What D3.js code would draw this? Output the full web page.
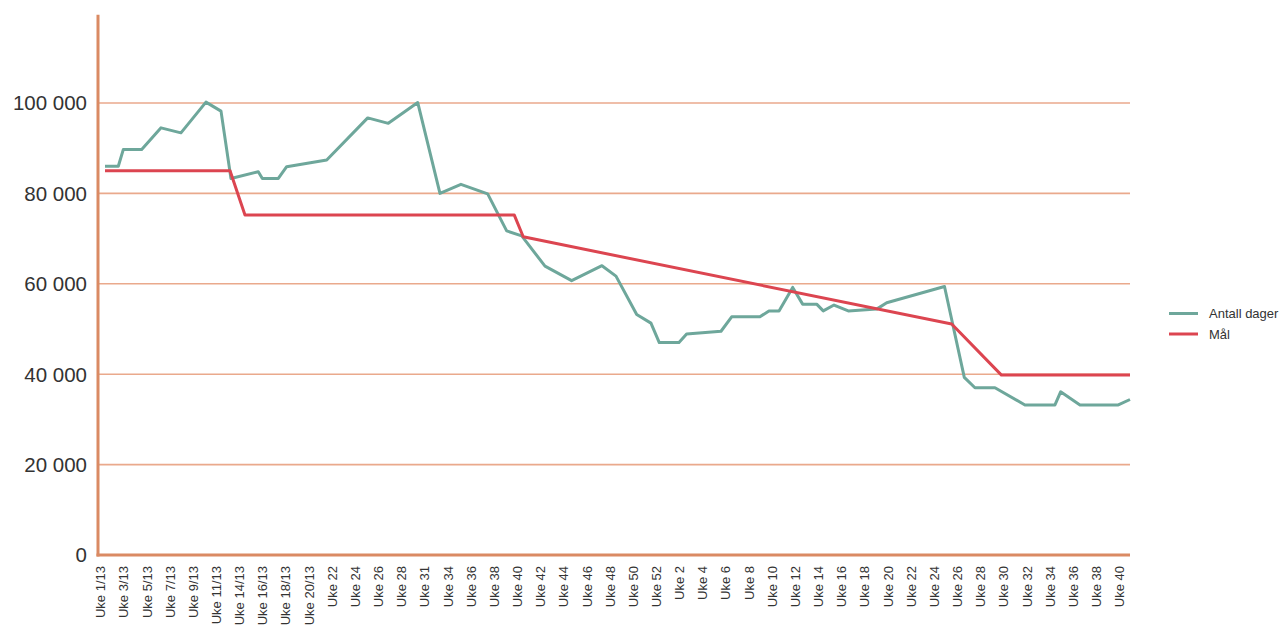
<!DOCTYPE html>
<html>
<head>
<meta charset="utf-8">
<script src="https://cdn.jsdelivr.net/npm/d3@7"></script>
<style>
  html, body { margin: 0; padding: 0; background: #fff; }
  svg { display: block; }
</style>
</head>
<body>
<svg id="chart" width="1283" height="627"></svg>
<script>
// ---------- DATA ----------
const tickLabels = [
  "Uke 1/13","Uke 3/13","Uke 5/13","Uke 7/13","Uke 9/13","Uke 11/13","Uke 14/13","Uke 16/13","Uke 18/13","Uke 20/13",
  "Uke 22","Uke 24","Uke 26","Uke 28","Uke 31","Uke 34","Uke 36","Uke 38","Uke 40","Uke 42",
  "Uke 44","Uke 46","Uke 48","Uke 50","Uke 52","Uke 2","Uke 4","Uke 6","Uke 8","Uke 10",
  "Uke 12","Uke 14","Uke 16","Uke 18","Uke 20","Uke 22","Uke 24","Uke 26","Uke 28","Uke 30",
  "Uke 32","Uke 34","Uke 36","Uke 38","Uke 40"
];
// position on the week axis (category index, 2 per label) and values
const antallPos = [0.43,1.58,2.01,3.60,5.27,6.99,9.15,10.45,11.31,13.67,14.02,15.40,16.12,19.58,23.12,24.90,27.44,29.36,31.17,33.48,
  35.12,36.42,38.43,40.73,43.35,44.56,46.35,47.58,48.30,50.00,50.66,53.63,54.55,56.99,57.77,58.64,59.82,60.68,61.89,62.46,
  63.39,64.62,67.07,67.94,72.93,74.64,75.56,77.29,79.88,82.47,82.96,84.63,87.94,88.95];
const antallValues = [86000,86000,89700,89700,94500,93400,100200,98200,83300,84800,83300,83300,85900,87400,96700,95500,100100,80000,82000,79900,
  71700,70600,63900,60700,64000,61700,53200,51300,47000,47000,48900,49500,52700,52700,54000,54000,59200,55500,55500,54000,
  55300,54000,54400,55800,59400,39300,37000,37000,33200,33200,36100,33200,33200,34400];
const malPos = [0.43,11.23,12.52,35.78,36.55,73.55,77.85,88.95];
const malValues = [85000,85000,75200,75200,70400,51100,39800,39800];
const yTicks = [0,20000,40000,60000,80000,100000];
const seriesNames = ["Antall dager","Mål"];
const seriesColors = ["#6ea79b","#dc4550"];

// ---------- CHART ----------
const svg = d3.select("#chart");
const axisColor = "#da8a63", gridColor = "#eaa98c", textColor = "#333";
const x = d3.scaleLinear().domain([0, 88]).range([100, 1119]);
const y = d3.scaleLinear().domain([0, 120000]).range([555, 12.6]);
const plotLeft = 98, plotRight = 1130;

// gridlines
svg.append("g").selectAll("line").data(yTicks.filter(d => d > 0)).join("line")
  .attr("x1", plotLeft).attr("x2", plotRight)
  .attr("y1", d => y(d)).attr("y2", d => y(d))
  .attr("stroke", gridColor).attr("stroke-width", 1.6);

// y labels
const fmt = d => d3.format(",")(d).replace(/,/g, " ");
svg.append("g").selectAll("text").data(yTicks).join("text")
  .attr("x", 87).attr("y", d => y(d)).attr("dy", "0.36em")
  .attr("text-anchor", "end")
  .attr("font-family", "Liberation Sans, Arial, sans-serif")
  .attr("font-size", 20.5).attr("fill", textColor)
  .text(fmt);

// x labels
const xAxis = d3.axisBottom(x)
  .tickValues(tickLabels.map((d, i) => i * 2))
  .tickFormat((d, i) => tickLabels[i]).tickSize(0);
const gx = svg.append("g").attr("transform", "translate(0,566)").call(xAxis);
gx.select(".domain").remove();
gx.selectAll("text")
  .attr("transform", "rotate(-90)")
  .attr("x", 0).attr("y", 0).attr("dy", "0.36em")
  .attr("text-anchor", "end")
  .attr("font-family", "Liberation Sans, Arial, sans-serif")
  .attr("font-size", 13).attr("fill", textColor);

// axis lines
svg.append("line").attr("x1", plotLeft).attr("x2", plotLeft)
  .attr("y1", y(119500)).attr("y2", 556.5)
  .attr("stroke", axisColor).attr("stroke-width", 3);
svg.append("line").attr("x1", plotLeft - 1.5).attr("x2", plotRight)
  .attr("y1", y(0)).attr("y2", y(0))
  .attr("stroke", axisColor).attr("stroke-width", 3);

// lines
const line = d3.line().x(d => x(d[0])).y(d => y(d[1]));
const series = [
  antallPos.map((p, i) => [p, antallValues[i]]),
  malPos.map((p, i) => [p, malValues[i]])
];
series.forEach((s, i) => {
  svg.append("path").datum(s).attr("d", line)
    .attr("fill", "none").attr("stroke", seriesColors[i])
    .attr("stroke-width", 3).attr("stroke-linejoin", "round").attr("stroke-linecap", "butt");
});

// legend
const lg = svg.append("g").attr("transform", "translate(1169,313.5)");
seriesNames.forEach((n, i) => {
  const g = lg.append("g").attr("transform", `translate(0,${i * 20.5})`);
  g.append("line").attr("x1", 0).attr("x2", 29).attr("y1", 0).attr("y2", 0)
    .attr("stroke", seriesColors[i]).attr("stroke-width", 3);
  g.append("text").attr("x", 40).attr("y", 0).attr("dy", "0.36em")
    .attr("font-family", "Liberation Sans, Arial, sans-serif")
    .attr("font-size", 13).attr("fill", textColor).text(n);
});
</script>
</body>
</html>
